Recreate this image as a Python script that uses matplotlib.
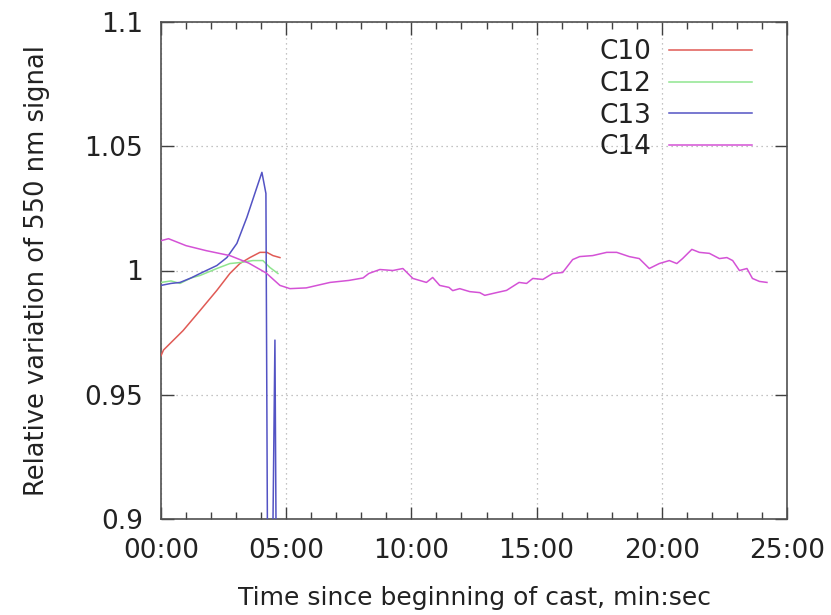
import matplotlib
matplotlib.use("Agg")
import matplotlib.pyplot as plt
from matplotlib.ticker import MultipleLocator, FuncFormatter

# ---- data (time in minutes, relative variation) ----
c10_t = [0.0, 0.1, 0.88, 1.56, 2.23, 2.75, 3.15, 3.55, 3.95, 4.23, 4.47, 4.75]
c10_v = [0.9657, 0.968, 0.9758, 0.9839, 0.992, 0.9988, 1.0028, 1.0052, 1.0073, 1.0073, 1.006, 1.0052]

c12_t = [0.0, 0.4, 0.76, 1.2, 1.56, 2.23, 2.75, 3.15, 3.67, 4.07, 4.35, 4.67]
c12_v = [0.9952, 0.9958, 0.9948, 0.997, 0.998, 1.0008, 1.0028, 1.0032, 1.004, 1.004, 1.0012, 0.9988]

c13_t = [0.0, 0.4, 0.76, 1.2, 1.56, 2.23, 2.63, 3.03, 3.43, 3.83, 4.03, 4.19, 4.27, 4.42, 4.55, 4.62]
c13_v = [0.9940, 0.9948, 0.9952, 0.997, 0.9988, 1.002, 1.0052, 1.0109, 1.0214, 1.0335, 1.0395, 1.031, 0.85, 0.85, 0.972, 0.85]

c14_t = [0.0, 0.3, 1.0, 1.8, 2.75, 3.5, 4.2, 4.75, 5.15, 5.8, 6.75, 7.5, 8.07, 8.3, 8.74, 9.26,
         9.66, 9.86, 10.06, 10.6, 10.85, 11.13, 11.5, 11.65, 11.93, 12.33, 12.73, 12.93, 13.4,
         13.8, 14.3, 14.6, 14.85, 15.25, 15.64, 16.04, 16.44, 16.72, 17.24, 17.8, 18.2, 18.7,
         19.1, 19.5, 19.9, 20.3, 20.6, 20.83, 21.2, 21.5, 21.9, 22.3, 22.6, 22.83, 23.1, 23.4,
         23.62, 23.9, 24.2]
c14_v = [1.012, 1.0128, 1.010, 1.008, 1.006, 1.003, 0.999, 0.994, 0.9927, 0.993, 0.9952, 0.996,
         0.997, 0.9988, 1.0004, 1.0, 1.0008, 0.9988, 0.9968, 0.9952, 0.9972, 0.994, 0.9932,
         0.9919, 0.9927, 0.9915, 0.9911, 0.990, 0.9911, 0.992, 0.9952, 0.9948, 0.9968, 0.9964,
         0.9988, 0.9992, 1.0044, 1.0056, 1.006, 1.0073, 1.0073, 1.0056, 1.0048, 1.0008, 1.0028,
         1.004, 1.0028, 1.0048, 1.0085, 1.0073, 1.0069, 1.0048, 1.0052, 1.004, 1.0, 1.0008,
         0.9968, 0.9956, 0.9952]

labels = ["C10", "C12", "C13", "C14"]
colors = ["#e05a55", "#8fe58f", "#5353c4", "#d452d6"]

# ---- figure ----
W, H = 831, 615
L, R, T, B = 161, 787, 22, 519
fig = plt.figure(figsize=(W / 100, H / 100), dpi=100)
ax = fig.add_axes([L / W, 1 - B / H, (R - L) / W, (B - T) / H])

series = [(c10_t, c10_v), (c12_t, c12_v), (c13_t, c13_v), (c14_t, c14_v)]
for (t, v), lab, col in zip(series, labels, colors):
    ax.plot(t, v, color=col, lw=1.1, label=lab, zorder=3)

ax.set_xlim(0, 25)
ax.set_ylim(0.9, 1.1)
ax.xaxis.set_major_locator(MultipleLocator(5))
ax.xaxis.set_minor_locator(MultipleLocator(1))
ax.yaxis.set_major_locator(MultipleLocator(0.05))
ax.xaxis.set_major_formatter(FuncFormatter(lambda x, p: "%02d:00" % int(round(x))))
ax.yaxis.set_major_formatter(FuncFormatter(
    lambda y, p: ("%.2f" % y).rstrip("0").rstrip(".") if abs(y - round(y)) > 1e-9 else "%d" % round(y)))

ax.grid(True, which="major", color="#b0b0b0", linestyle=(0, (1, 3)), linewidth=0.9)
ax.tick_params(which="both", direction="in", top=True, right=True, colors="#404040",
               labelcolor="#222222", labelsize=19, width=1.0)
ax.tick_params(which="major", length=9)
ax.tick_params(axis="x", which="major", pad=14)
ax.tick_params(axis="y", which="major", pad=13)
ax.tick_params(which="minor", length=5)
for s in ax.spines.values():
    s.set_color("#505050")
    s.set_linewidth(1.2)

ax.set_xlabel("Time since beginning of cast, min:sec", fontsize=18, color="#222222")
ax.set_ylabel("Relative variation of 550 nm signal", fontsize=18.5, color="#222222")
ax.xaxis.set_label_coords(0.5, -(586 - B) / (B - T))
ax.yaxis.set_label_coords(-(L - 50) / (R - L), 0.5)

leg = ax.legend(loc="upper right", frameon=False, markerfirst=False, fontsize=19,
                handlelength=3.14, handletextpad=0.68, labelspacing=0.22,
                bbox_to_anchor=(1 - 35 / (R - L), 1 - 17 / (B - T)), borderaxespad=0.0, borderpad=0.0)
for t in leg.get_texts():
    t.set_color("#222222")

fig.savefig("out.png", dpi=100)
